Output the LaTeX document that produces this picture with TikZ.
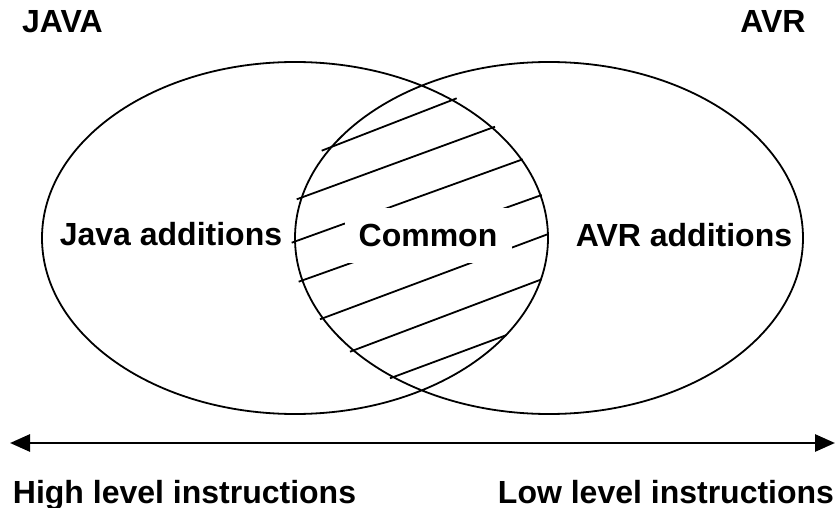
\documentclass[tikz,border=0pt]{standalone}
\usepackage{fontspec}
\setmainfont{Liberation Sans}
\usetikzlibrary{arrows.meta}
\tikzset{
	setoutline/.style={line width=0.9pt},%
	hatch/.style={line width=0.9pt},%
	setlabel/.style={font=\bfseries\fontsize{16pt}{19pt}\selectfont,anchor=base,inner sep=0pt},%
	commonlabel/.style={setlabel,fill=white,minimum width=83.5pt,minimum height=27.5pt},%
	levelarrow/.style={{Triangle[length=10pt,width=8.5pt]}-{Triangle[length=10pt,width=8.5pt]},line width=1.4pt},%
}

\begin{document}
\begin{tikzpicture}[x=0.5pt,y=-0.5pt]
		\useasboundingbox (0,0) rectangle (836,508);
		% the two sets
		\draw[setoutline] %
		(295,238) ellipse [x radius=253,y radius=176]%
		(549,238) ellipse [x radius=254,y radius=176]%
		;
		% hatching of the overlap
		\draw[hatch] %
		(321.7,150.7) -- (456.7,98.3)%
		(296.7,199.3) -- (495,126.7)%
		(291.7,242.7) -- (522.7,159.3)%
		(298.7,281.7) -- (541.7,195)%
		(320,319.3) -- (548.3,234)%
		(350,351.7) -- (541.7,279.3)%
		(390,378.3) -- (506.7,335)%
		;
		\node[setlabel] (javatitle) at (62.5,33) {JAVA};
		\node[setlabel] (avrtitle) at (773,33) {AVR};
		\node[setlabel] (javaadd) at (171,245) {Java additions};
		\node[commonlabel] (common) at (428,246.7) {Common};
		\node[setlabel] (avradd) at (684,246) {AVR additions};
		% level axis
		\coordinate (highend) at (10,443);
		\coordinate (lowend) at (835,443);
		\draw[levelarrow] (highend) -- (lowend);
		\node[setlabel] (highlevel) at (184.5,503) {High level instructions};
		\node[setlabel] (lowlevel) at (666,503) {Low level instructions};
	\end{tikzpicture}
\end{document}
